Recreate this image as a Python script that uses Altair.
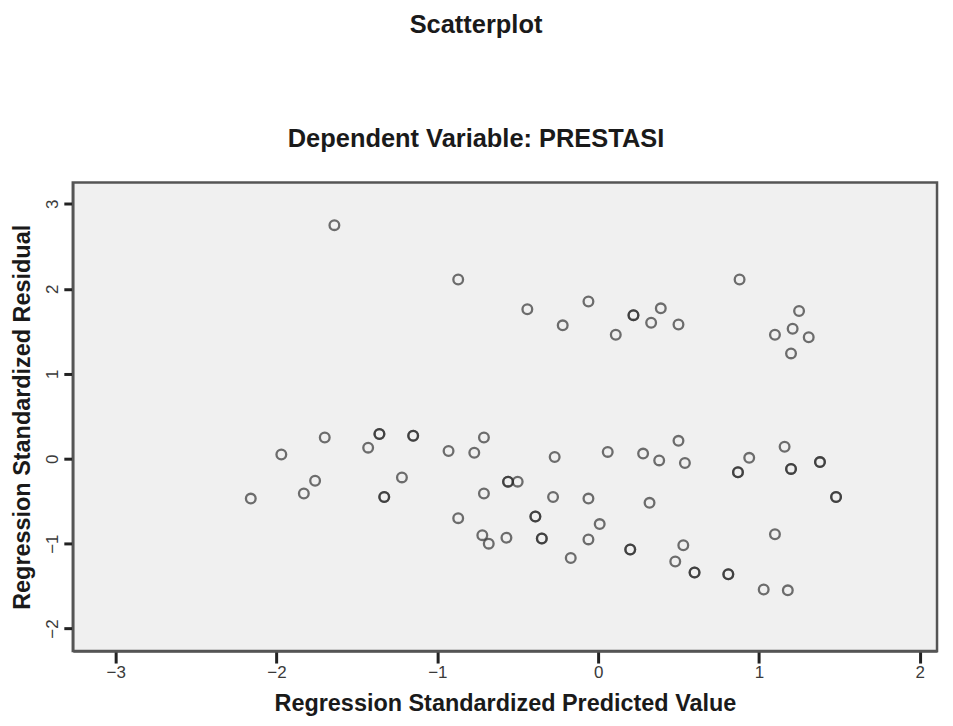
import altair as alt
import pandas as pd

# Regression standardized predicted values (x) and residuals (y)
pred = [-2.16, -1.97, -1.83, -1.76, -1.70, -1.64, -1.43, -1.36, -1.33, -1.22,
        -1.15, -0.93, -0.87, -0.87, -0.77, -0.71, -0.71, -0.72, -0.68, -0.57,
        -0.56, -0.50, -0.44, -0.39, -0.35, -0.27, -0.28, -0.22, -0.17, -0.06,
        -0.06, -0.06, 0.01, 0.06, 0.11, 0.20, 0.22, 0.28, 0.33, 0.32,
        0.38, 0.39, 0.48, 0.50, 0.50, 0.53, 0.54, 0.60, 0.87, 0.88,
        0.94, 0.81, 1.03, 1.10, 1.10, 1.16, 1.18, 1.20, 1.21, 1.20,
        1.25, 1.31, 1.38, 1.48]
resid = [-0.47, 0.05, -0.41, -0.26, 0.25, 2.75, 0.13, 0.29, -0.45, -0.22,
         0.27, 0.09, 2.11, -0.70, 0.07, 0.25, -0.41, -0.90, -1.00, -0.93,
         -0.27, -0.27, 1.76, -0.68, -0.94, 0.02, -0.45, 1.57, -1.17, 1.85,
         -0.47, -0.95, -0.77, 0.08, 1.46, -1.07, 1.69, 0.06, 1.60, -0.52,
         -0.02, 1.77, -1.21, 0.21, 1.58, -1.02, -0.05, -1.34, -0.16, 2.11,
         0.01, -1.36, -1.54, 1.46, -0.89, 0.14, -1.55, 1.24, 1.53, -0.12,
         1.74, 1.43, -0.04, -0.45]
# number of cases drawn at the same spot (overlapping markers look darker)
cases = [1, 1, 1, 1, 1, 1, 1, 2, 2, 1,
         2, 1, 1, 1, 1, 1, 1, 1, 1, 1,
         2, 1, 1, 2, 2, 1, 1, 1, 1, 1,
         1, 1, 1, 1, 1, 2, 2, 1, 1, 1,
         1, 1, 1, 1, 1, 1, 1, 2, 2, 1,
         1, 2, 1, 1, 1, 1, 1, 1, 1, 2,
         1, 1, 2, 2]

x_ticks = [-3, -2, -1, 0, 1, 2]
y_ticks = [-2, -1, 0, 1, 2, 3]

rows = []
for px, ry, n in zip(pred, resid, cases):
    for _ in range(n):
        rows.append({"pred": px, "resid": ry})
df = pd.DataFrame(rows)

FONT = "Liberation Sans"

points = alt.Chart(df).mark_point(
    shape="circle", filled=False, size=95, strokeWidth=2.3,
    color="#2e2e2e", opacity=0.68
).encode(
    x=alt.X("pred:Q",
            scale=alt.Scale(domain=[-3.267, 2.108], nice=False, zero=False),
            axis=alt.Axis(values=x_ticks, format="d",
                          title="Regression Standardized Predicted Value",
                          grid=False, ticks=True, tickSize=12, tickWidth=3,
                          tickColor="#222", tickOpacity=1,
                          domainColor="#555", domainWidth=2.5,
                          labelFontSize=17, labelColor="#3a3a3a", labelPadding=2,
                          titleFontSize=23.5, titlePadding=11, titleColor="#1a1a1a")),
    y=alt.Y("resid:Q",
            scale=alt.Scale(domain=[-2.265, 3.251], nice=False, zero=False),
            axis=alt.Axis(values=y_ticks, format="d",
                          title="Regression Standardized Residual",
                          grid=False, ticks=True, tickSize=9, tickWidth=3,
                          tickColor="#222", tickOpacity=1,
                          domainColor="#555", domainWidth=2.5,
                          labelAngle=270, labelFontSize=17, labelColor="#3a3a3a",
                          labelPadding=2, labelAlign="center", labelBaseline="bottom",
                          titleFontSize=23.5, titlePadding=9, titleColor="#1a1a1a"))
)

chart = points.properties(
    width=867, height=470,
    autosize=alt.AutoSizeParams(type="none"),
    padding={"left": 65, "top": 174, "right": 8, "bottom": 66},
    title=alt.TitleParams(
        text="Scatterplot", subtitle="Dependent Variable: PRESTASI",
        fontSize=25.5, subtitleFontSize=25.5, fontWeight="bold",
        subtitleFontWeight="bold", font=FONT, subtitleFont=FONT,
        color="#1a1a1a", subtitleColor="#1a1a1a",
        anchor="middle", frame="group", dx=-29, offset=30, subtitlePadding=89),
).configure(
    font=FONT,
    background="white",
).configure_view(
    fill="#f0f0f0", stroke="#555", strokeWidth=2.5
).configure_axis(
    labelFont=FONT, titleFont=FONT, titleFontWeight="bold"
)

chart.save("out.html", embed_options={"renderer": "svg", "actions": False})
